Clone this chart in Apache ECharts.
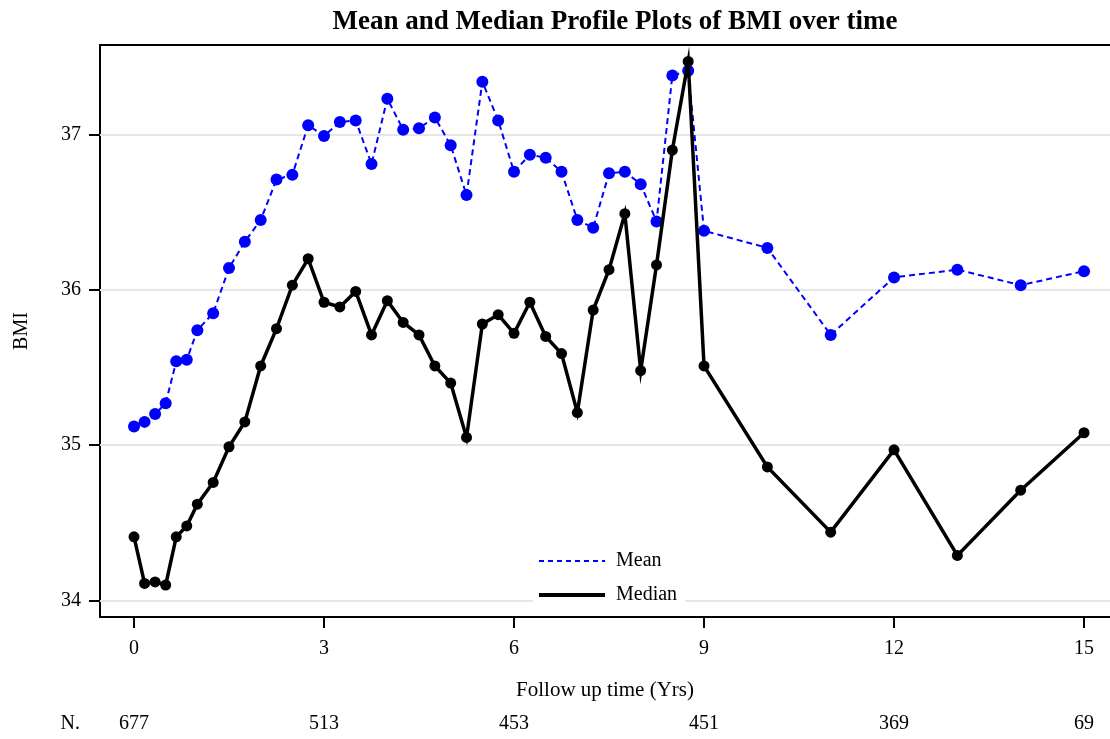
<!DOCTYPE html>
<html>
<head>
<meta charset="utf-8">
<script src="https://cdn.jsdelivr.net/npm/echarts@6/dist/echarts.min.js"></script>
<style>html,body{margin:0;padding:0;background:#fff}#c{width:1110px;height:739px}</style>
</head>
<body>
<div id="c"></div>
<script>
const times = [0, 0.167, 0.333, 0.5, 0.667, 0.833, 1, 1.25, 1.5, 1.75, 2, 2.25, 2.5, 2.75, 3, 3.25, 3.5, 3.75, 4, 4.25, 4.5, 4.75, 5, 5.25, 5.5, 5.75, 6, 6.25, 6.5, 6.75, 7, 7.25, 7.5, 7.75, 8, 8.25, 8.5, 8.75, 9, 10, 11, 12, 13, 14, 15];
const meanBMI = [35.12, 35.15, 35.20, 35.27, 35.54, 35.55, 35.74, 35.85, 36.14, 36.31, 36.45, 36.71, 36.74, 37.06, 36.99, 37.08, 37.09, 36.81, 37.23, 37.03, 37.04, 37.11, 36.93, 36.61, 37.34, 37.09, 36.76, 36.87, 36.85, 36.76, 36.45, 36.40, 36.75, 36.76, 36.68, 36.44, 37.38, 37.41, 36.38, 36.27, 35.71, 36.08, 36.13, 36.03, 36.12];
const medianBMI = [34.41, 34.11, 34.12, 34.10, 34.41, 34.48, 34.62, 34.76, 34.99, 35.15, 35.51, 35.75, 36.03, 36.20, 35.92, 35.89, 35.99, 35.71, 35.93, 35.79, 35.71, 35.51, 35.40, 35.05, 35.78, 35.84, 35.72, 35.92, 35.70, 35.59, 35.21, 35.87, 36.13, 36.49, 35.48, 36.16, 36.90, 37.47, 35.51, 34.86, 34.44, 34.97, 34.29, 34.71, 35.08];
const xTicks = [0, 3, 6, 9, 12, 15];
const yTicks = [34, 35, 36, 37];
const nCounts = [677, 513, 453, 451, 369, 69];

const FONT = "'Liberation Serif', 'Times New Roman', serif";
const chart = echarts.init(document.getElementById('c'));
const zip = (xs, ys) => xs.map((x, i) => [x, ys[i]]);
const XMIN = -0.537, XMAX = 15.41;

chart.setOption({
  backgroundColor: '#fff',
  animation: false,
  textStyle: { fontFamily: FONT },
  title: {
    text: 'Mean and Median Profile Plots of BMI over time',
    left: 610, textAlign: 'center', top: 4,
    textStyle: { fontFamily: FONT, fontWeight: 'bold', fontSize: 27, color: '#000' }
  },
  grid: { left: 100, top: 45, right: 0, bottom: 122, show: false },
  legend: {
    data: [
      { name: 'Mean', lineStyle: { width: 2, type: [5, 4] } },
      { name: 'Median', lineStyle: { width: 4 } }
    ],
    orient: 'vertical',
    left: 533, top: 547,
    itemWidth: 66, itemHeight: 18, itemGap: 14,
    padding: [4, 8, 4, 4],
    backgroundColor: '#fff',
    itemStyle: { opacity: 0 },
    textStyle: { fontFamily: FONT, fontSize: 20, color: '#000', padding: [0, 0, 0, 6] }
  },
  xAxis: [{
    type: 'value', min: XMIN, max: XMAX, position: 'bottom',
    name: 'Follow up time (Yrs)', nameLocation: 'middle', nameGap: 63,
    nameTextStyle: { fontFamily: FONT, fontSize: 21, color: '#000' },
    axisLine: { show: true, onZero: false, lineStyle: { color: '#000', width: 2 } },
    axisTick: { show: true, customValues: xTicks, length: 11, inside: false, lineStyle: { color: '#000', width: 2 } },
    axisLabel: { customValues: xTicks, margin: 22, fontFamily: FONT, fontSize: 20, color: '#000' },
    splitLine: { show: false }
  }, {
    type: 'value', min: XMIN, max: XMAX, position: 'bottom', offset: 95,
    name: 'N.', nameLocation: 'start', nameGap: 20,
    nameTextStyle: { fontFamily: FONT, fontSize: 20, color: '#000', verticalAlign: 'top', padding: [2, 0, 0, 0] },
    axisLine: { show: false }, axisTick: { show: false },
    axisLabel: { customValues: xTicks, margin: 2, fontFamily: FONT, fontSize: 20, color: '#000',
      formatter: v => String(nCounts[xTicks.indexOf(v)]) },
    splitLine: { show: false }
  }, {
    type: 'value', min: XMIN, max: XMAX, position: 'top',
    axisLine: { show: true, onZero: false, lineStyle: { color: '#000', width: 2 } },
    axisTick: { show: false }, axisLabel: { show: false }, splitLine: { show: false }
  }],
  yAxis: {
    type: 'value', min: 33.894, max: 37.576,
    name: 'BMI', nameLocation: 'middle', nameGap: 68, nameRotate: 90,
    nameTextStyle: { fontFamily: FONT, fontSize: 20, color: '#000' },
    axisLine: { show: true, onZero: false, lineStyle: { color: '#000', width: 2 } },
    axisTick: { show: true, customValues: yTicks, length: 11, lineStyle: { color: '#000', width: 2 } },
    axisLabel: { customValues: yTicks, margin: 19, fontFamily: FONT, fontSize: 20, color: '#000' },
    splitLine: { show: false }
  },
  series: [{
    name: 'gridlines', type: 'line', data: [], silent: true, z: 0,
    markLine: {
      silent: true, symbol: 'none', z: 1, animation: false,
      label: { show: false },
      lineStyle: { color: '#e6e6e6', width: 2, type: 'solid' },
      emphasis: { disabled: true },
      data: yTicks.map(v => ({ yAxis: v }))
    }
  }, {
    name: 'Mean', type: 'line', data: zip(times, meanBMI), z: 3,
    symbol: 'circle', symbolSize: 12,
    itemStyle: { color: '#0000ff' },
    lineStyle: { color: '#0000ff', width: 2, type: [6, 4] }
  }, {
    name: 'Median', type: 'line', data: zip(times, medianBMI), z: 4,
    symbol: 'circle', symbolSize: 11,
    itemStyle: { color: '#000' },
    lineStyle: { color: '#000', width: 3.5, type: 'solid', join: 'miter', miterLimit: 10 }
  }]
});
</script>
</body>
</html>
